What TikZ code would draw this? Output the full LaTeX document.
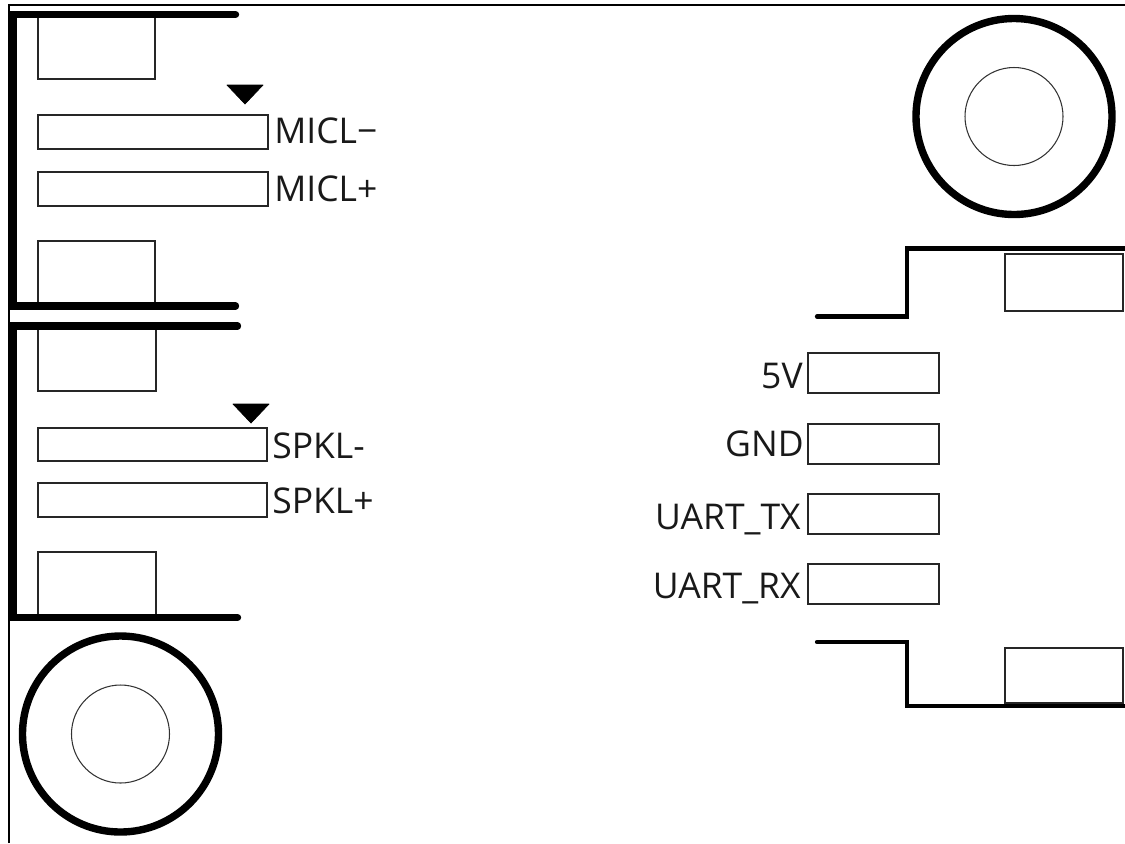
\documentclass[tikz,border=0pt]{standalone}
\usepackage{fontspec}
\setmainfont{Open Sans}
\usepackage{tikz}
\usetikzlibrary{positioning}
\tikzset{%
	wall/.style = {line width = 4.2pt, line cap = round, line join = miter},
	step wall/.style = {line width = 2.4pt, line cap = round, line join = miter},
	outline/.style = {line width = 0.8pt},
	pad/.style = {draw = black!85, line width = 0.8pt},
	pin/.style = {font = \fontsize{20.2}{22}\selectfont, inner sep = 0pt, text = black!90},
	notch/.style = {fill = black, draw = black, line width = 0.4pt, line join = round},
	hole/.style = {draw = black!80, line width = 0.6pt},
	ring/.style = {draw = black, line width = 4.2pt}
}
\begin{document}
\begin{tikzpicture}[x=0.02cm, y=-0.02cm]
	\useasboundingbox (0,0) rectangle (1125,843);
	% frame
	\draw [outline] (9,843) -- (9,5) -- (1125,5);
	% upper connector
	\draw [pad] (38,15) rectangle (155,79);
	\draw [pad] (38,115) rectangle (268,149);
	\draw [pad] (38,172) rectangle (268,206);
	\draw [pad] (38,241) rectangle (155,304);
	\draw [wall] (235.5,14.5) -- (13,14.5) -- (13,306) -- (235.5,306);
	\draw [notch] (227,85) -- (263,85) -- (245,104) -- cycle;
	\node [pin, anchor = base west] (miclm) at (274,143) {MICL−};
	\node [pin, anchor = base west] (miclp) at (274,201.5) {MICL+};
	% lower connector
	\draw [pad] (38,325) rectangle (156,391);
	\draw [pad] (38,428) rectangle (267,461);
	\draw [pad] (38,483) rectangle (267,517);
	\draw [pad] (38,552) rectangle (156,617);
	\draw [wall] (237.5,326) -- (13,326) -- (13,617.5) -- (237.5,617.5);
	\draw [notch] (233,404) -- (269,404) -- (251,423) -- cycle;
	\node [pin, anchor = base west] (spklm) at (272,458) {SPKL-};
	\node [pin, anchor = base west] (spklp) at (272,513) {SPKL+};
	% mounting holes
	\draw [ring] (120.5,734) circle (98);
	\draw [hole] (120.5,734) circle (49);
	\draw [ring] (1014,116.5) circle (98);
	\draw [hole] (1014,116.5) circle (49);
	% right edge
	\draw [step wall] (817,316.5) -- (907,316.5) -- (907,248.5) -- (1125,248.5);
	\draw [pad] (1005,254) rectangle (1123,311);
	\draw [step wall] (817,642) -- (907,642) -- (907,706) -- (1125,706);
	\draw [pad] (1005,648) rectangle (1123,703);
	% header pads
	\foreach \y/\b/\r/\n/\t in {353/388/803/vcc/5V, 424/456/804/gnd/GND, 494/529/801/tx/UART\_TX, 564/598/801/rx/UART\_RX} {
		\draw [pad] (808,\y) rectangle (939,\y+40);
		\node [pin, anchor = base east] (\n) at (\r,\b) {\t};
	}
\end{tikzpicture}
\end{document}
